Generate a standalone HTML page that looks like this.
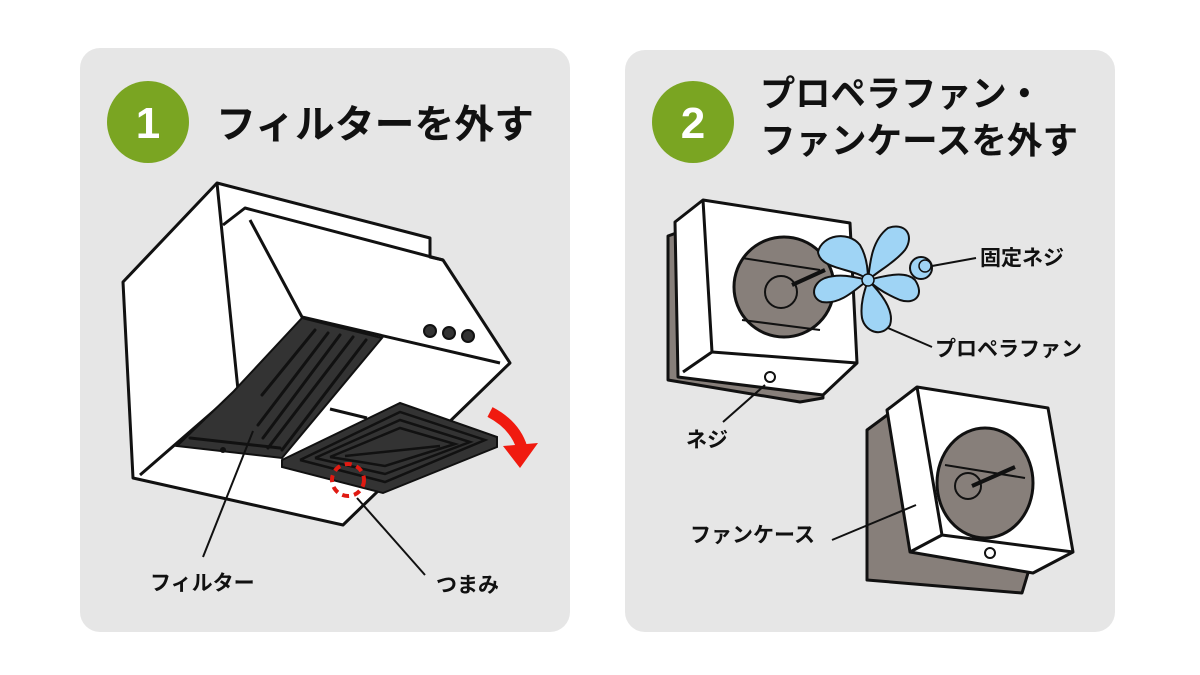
<!DOCTYPE html>
<html><head><meta charset="utf-8"><style>
html,body{margin:0;padding:0;background:#fff;width:1200px;height:675px;overflow:hidden}
svg{display:block}
text{font-family:"Liberation Sans","Noto Sans CJK JP",sans-serif;font-weight:bold}
</style></head><body>
<svg width="1200" height="675" viewBox="0 0 1200 675" xmlns="http://www.w3.org/2000/svg">
<rect x="0" y="0" width="1200" height="675" fill="#fff"/>
<rect x="80" y="48" width="490" height="584" rx="20" fill="#e6e6e6"/>
<rect x="625" y="50" width="490" height="582" rx="20" fill="#e6e6e6"/>

<circle cx="148" cy="122" r="41" fill="#7aa522"/>
<text x="148" y="138" font-size="44" fill="#fff" text-anchor="middle">1</text>
<text x="216" y="138" font-size="39" fill="#111" textLength="318" lengthAdjust="spacingAndGlyphs">フィルターを外す</text>

<circle cx="693" cy="122" r="41" fill="#7aa522"/>
<text x="693" y="138" font-size="44" fill="#fff" text-anchor="middle">2</text>
<text x="760" y="106" font-size="36" fill="#111" textLength="282" lengthAdjust="spacingAndGlyphs">プロペラファン・</text>
<text x="760" y="153" font-size="36" fill="#111" textLength="318" lengthAdjust="spacingAndGlyphs">ファンケースを外す</text>

<!-- Hood -->
<g stroke="#111" stroke-width="3" stroke-linejoin="round" fill="#fff">
<polygon points="123,282 217,183 430,238 430,257 443,260 510,363 343,525 133,478"/>
<polyline fill="none" points="217,183 238,390"/>
<polyline fill="none" points="223,225 245,208 443,260"/>
<polyline fill="none" points="250,220 302,317 500,363"/>
<polyline fill="none" points="140,475 238,390"/>
<polyline fill="none" points="330,409 367,418"/>
</g>
<circle cx="430" cy="331" r="6" fill="#333" stroke="#111" stroke-width="2"/>
<circle cx="449" cy="333" r="6" fill="#333" stroke="#111" stroke-width="2"/>
<circle cx="468" cy="336" r="6" fill="#333" stroke="#111" stroke-width="2"/>
<!-- filter1 -->
<polygon points="302,318 382,338 282,458 177,446 233,392" fill="#333" stroke="#111" stroke-width="2"/>
<g stroke="#111" stroke-width="3" fill="none" stroke-linecap="round">
<line x1="315" y1="330" x2="262" y2="395"/>
<line x1="328" y1="333" x2="258" y2="425"/>
<line x1="340" y1="335" x2="263" y2="438"/>
<line x1="353" y1="337" x2="268" y2="448"/>
<line x1="366" y1="340" x2="282" y2="450"/>
<line x1="190" y1="438" x2="280" y2="448"/>
</g>
<circle cx="223" cy="450" r="3" fill="#111"/>
<!-- filter2 -->
<polygon points="400,403 497,437 497,447 383,493 282,467 282,460" fill="#333" stroke="#111" stroke-width="2"/>
<g stroke="#111" stroke-width="2.5" fill="none">
<polyline points="300,460 400,412 485,440 385,482 300,460"/>
<polyline points="315,458 400,420 470,442 385,474 315,458"/>
<polyline points="330,457 400,428 455,444 385,466 330,457"/>
<line x1="345" y1="456" x2="440" y2="446"/>
</g>
<!-- red arrow -->
<path d="M490,412 Q515,425 522,448" stroke="#f01a0f" stroke-width="11" fill="none"/>
<polygon points="503,446 538,443 520,468" fill="#f01a0f"/>
<circle cx="348" cy="480" r="16" fill="none" stroke="#e01a12" stroke-width="4" stroke-dasharray="7,5"/>
<!-- labels 1 -->
<line x1="253" y1="431" x2="203" y2="557" stroke="#111" stroke-width="2"/>
<line x1="357" y1="498" x2="425" y2="575" stroke="#111" stroke-width="2"/>
<text x="150" y="590" font-size="21" fill="#111">フィルター</text>
<text x="436" y="592" font-size="21" fill="#111">つまみ</text>

<!-- Fan unit top -->
<g stroke="#111" stroke-width="3" stroke-linejoin="round">
<polygon points="668,236 690,228 818,245 823,398 800,402 668,380" fill="#877f7a"/>
<polygon points="675,222 703,200 850,223 857,363 823,395 678,377" fill="#fff"/>
<polyline fill="none" points="703,200 712,352 857,363"/>
<polyline fill="none" points="712,352 683,372"/>
<circle cx="784" cy="287" r="50" fill="#877f7a"/>
</g>
<g stroke="#111" stroke-width="2" fill="none">
<line x1="742" y1="258" x2="820" y2="270"/>
<line x1="742" y1="320" x2="820" y2="330"/>
<circle cx="781" cy="292" r="16"/>
<line x1="792" y1="285" x2="825" y2="270" stroke-width="4"/>
</g>
<circle cx="770" cy="377" r="5" fill="#fff" stroke="#111" stroke-width="2"/>
<!-- fan blades -->
<g fill="#9fd4f5" stroke="#111" stroke-width="2" stroke-linejoin="round">
<path d="M868,280 C855,268 820,270 818,252 C822,235 848,230 860,245 C866,255 868,268 868,280Z"/>
<path d="M868,280 C870,262 872,240 888,228 C905,222 915,235 905,250 C895,262 880,270 868,280Z"/>
<path d="M868,280 C885,276 905,270 915,280 C925,295 915,305 900,300 C888,295 876,288 868,280Z"/>
<path d="M868,280 C880,292 895,310 890,325 C882,338 865,332 862,318 C860,305 864,292 868,280Z"/>
<path d="M868,280 C855,290 840,305 822,302 C810,298 812,283 825,278 C840,273 855,277 868,280Z"/>
</g>
<circle cx="868" cy="280" r="6" fill="#9fd4f5" stroke="#111" stroke-width="1.5"/>
<circle cx="921" cy="268" r="11" fill="#9fd4f5" stroke="#111" stroke-width="2"/>
<circle cx="925" cy="266" r="6" fill="#9fd4f5" stroke="#111" stroke-width="1.5"/>

<!-- Fan unit bottom -->
<g stroke="#111" stroke-width="3" stroke-linejoin="round">
<polygon points="867,430 890,413 1028,490 1028,573 1022,593 867,580" fill="#877f7a"/>
<polygon points="887,410 917,387 1048,408 1073,552 1033,573 910,552" fill="#fff"/>
<polyline fill="none" points="917,387 942,535 1073,552"/>
<polyline fill="none" points="942,535 910,552"/>
<ellipse cx="985" cy="483" rx="48" ry="55" fill="#877f7a"/>
</g>
<g stroke="#111" stroke-width="2" fill="none">
<line x1="945" y1="465" x2="1025" y2="478"/>
<circle cx="968" cy="486" r="13"/>
<line x1="972" y1="486" x2="1015" y2="467" stroke-width="4"/>
</g>
<circle cx="990" cy="553" r="5" fill="#fff" stroke="#111" stroke-width="2"/>

<!-- labels 2 -->
<g stroke="#111" stroke-width="2">
<line x1="932" y1="266" x2="976" y2="258"/>
<line x1="888" y1="328" x2="932" y2="347"/>
<line x1="765" y1="385" x2="723" y2="422"/>
<line x1="832" y1="540" x2="916" y2="505"/>
</g>
<text x="980" y="265" font-size="21" fill="#111">固定ネジ</text>
<text x="935" y="356" font-size="21" fill="#111">プロペラファン</text>
<text x="686" y="447" font-size="21" fill="#111">ネジ</text>
<text x="690" y="542" font-size="21" fill="#111">ファンケース</text>
</svg>
</body></html>
